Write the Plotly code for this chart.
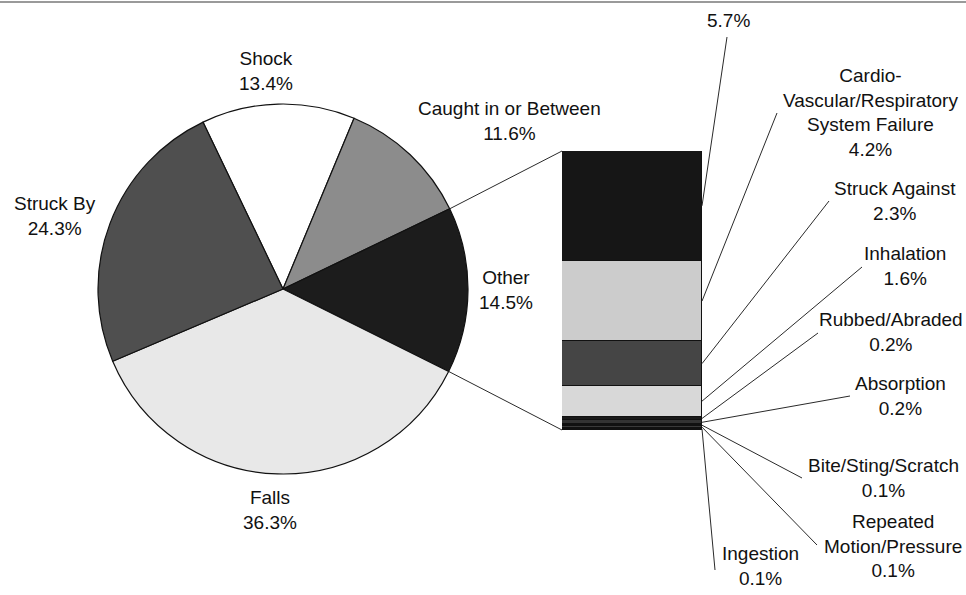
import math
import plotly.graph_objects as go

W, H = 966, 595

# Main injury categories, drawn clockwise starting with Shock
main_labels = ["Shock", "Caught in or Between", "Other", "Falls", "Struck By"]
main_values = [13.4, 11.6, 14.5, 36.3, 24.3]
main_colors = ["#ffffff", "#8c8c8c", "#1c1c1c", "#e8e8e8", "#4f4f4f"]

# Breakdown of "Other", listed from the top of the stacked bar downwards
other_labels = [
    "",
    "Cardio-<br>Vascular/Respiratory<br>System Failure",
    "Struck Against",
    "Inhalation",
    "Rubbed/Abraded",
    "Absorption",
    "Bite/Sting/Scratch",
    "Repeated<br>Motion/Pressure",
    "Ingestion",
]
other_values = [5.7, 4.2, 2.3, 1.6, 0.2, 0.2, 0.1, 0.1, 0.1]
other_colors = ["#161616", "#cccccc", "#454545", "#d8d8d8",
                "#1a1a1a", "#333333", "#111111", "#3a3a3a", "#111111"]

# ---- layout geometry (pixels) ----
PIE_CX, PIE_CY, PIE_R = 283, 289, 185
ROTATION = -25.6
BAR_X0, BAR_X1, BAR_TOP, BAR_BOT = 562, 702, 151, 430

main_label_pos = [(266, 71), (509, 121), (506, 290), (270, 510), (55, 216)]
other_label_pos = [(728, 21), (870, 112), (895, 201), (905, 266), (891, 332),
                   (900, 396), (883, 478), (893, 546), (760, 566)]
other_leader_end = [(727, 37), (777, 113), (829, 201), (862, 267), (818, 333),
                    (850, 396), (802, 478), (817, 545), (715, 570)]

FONT = dict(family="Liberation Sans, Arial, sans-serif", size=19, color="#111111")
LINE = dict(color="#2a2a2a", width=1)


def px(x):
    return x / W


def py(y):
    return 1 - y / H


fig = go.Figure()

# Pie of main categories
fig.add_trace(go.Pie(
    labels=main_labels,
    values=main_values,
    sort=False,
    direction="clockwise",
    rotation=ROTATION,
    marker=dict(colors=main_colors, line=dict(color="#111111", width=1.2)),
    textinfo="none",
    hoverinfo="label+percent",
    showlegend=False,
    domain=dict(x=[px(PIE_CX - PIE_R), px(PIE_CX + PIE_R)],
                y=[py(PIE_CY + PIE_R), py(PIE_CY - PIE_R)]),
))

# Stacked bar for the "Other" breakdown (first trace sits at the bottom)
for lab, val, col in reversed(list(zip(other_labels, other_values, other_colors))):
    fig.add_trace(go.Bar(
        x=[0], y=[val], width=1,
        name=lab.replace("<br>", " ") or "Unspecified",
        marker=dict(color=col, line=dict(color="#111111", width=1)),
        showlegend=False,
        hoverinfo="name+y",
        xaxis="x", yaxis="y",
    ))

total_other = sum(other_values)


def bar_y_px(v):
    return BAR_BOT - v / total_other * (BAR_BOT - BAR_TOP)


shapes = []
annotations = []

# Thin rule across the top
shapes.append(dict(type="line", xref="paper", yref="paper",
                   x0=0, x1=1, y0=py(2), y1=py(2),
                   line=dict(color="#9a9a9a", width=2)))

# Connectors from the "Other" wedge to the bar
total_main = sum(main_values)
idx_other = main_labels.index("Other")
start_frac = sum(main_values[:idx_other]) / total_main
end_frac = sum(main_values[:idx_other + 1]) / total_main
for frac, bar_y in ((start_frac, BAR_TOP), (end_frac, BAR_BOT)):
    ang = math.radians(ROTATION + frac * 360)
    ex = PIE_CX + PIE_R * math.sin(ang)
    ey = PIE_CY - PIE_R * math.cos(ang)
    shapes.append(dict(type="line", xref="paper", yref="paper",
                       x0=px(ex), y0=py(ey), x1=px(BAR_X0), y1=py(bar_y),
                       line=LINE))

# Leader lines from each bar segment to its label
cum = 0.0
for val, (lx, ly) in zip(other_values, other_leader_end):
    mid = total_other - (cum + val / 2)
    cum += val
    shapes.append(dict(type="line", xref="paper", yref="paper",
                       x0=px(BAR_X1), y0=py(bar_y_px(mid)), x1=px(lx), y1=py(ly),
                       line=LINE))

# Labels
for lab, val, (x, y) in zip(main_labels, main_values, main_label_pos):
    annotations.append(dict(x=px(x), y=py(y), xref="paper", yref="paper",
                            text=f"{lab}<br>{val:.1f}%", showarrow=False,
                            xanchor="center", yanchor="middle", align="center",
                            font=FONT))
for lab, val, (x, y) in zip(other_labels, other_values, other_label_pos):
    txt = f"{lab}<br>{val:.1f}%" if lab else f"{val:.1f}%"
    annotations.append(dict(x=px(x), y=py(y), xref="paper", yref="paper",
                            text=txt, showarrow=False,
                            xanchor="center", yanchor="middle", align="center",
                            font=FONT))

fig.update_layout(
    width=W, height=H,
    margin=dict(l=0, r=0, t=0, b=0),
    paper_bgcolor="#ffffff",
    plot_bgcolor="rgba(0,0,0,0)",
    barmode="stack",
    bargap=0,
    xaxis=dict(domain=[px(BAR_X0), px(BAR_X1)], range=[-0.5, 0.5],
               visible=False, fixedrange=True),
    yaxis=dict(domain=[py(BAR_BOT), py(BAR_TOP)], range=[0, total_other],
               visible=False, fixedrange=True),
    shapes=shapes,
    annotations=annotations,
    font=FONT,
)

fig.write_html("out.html")
